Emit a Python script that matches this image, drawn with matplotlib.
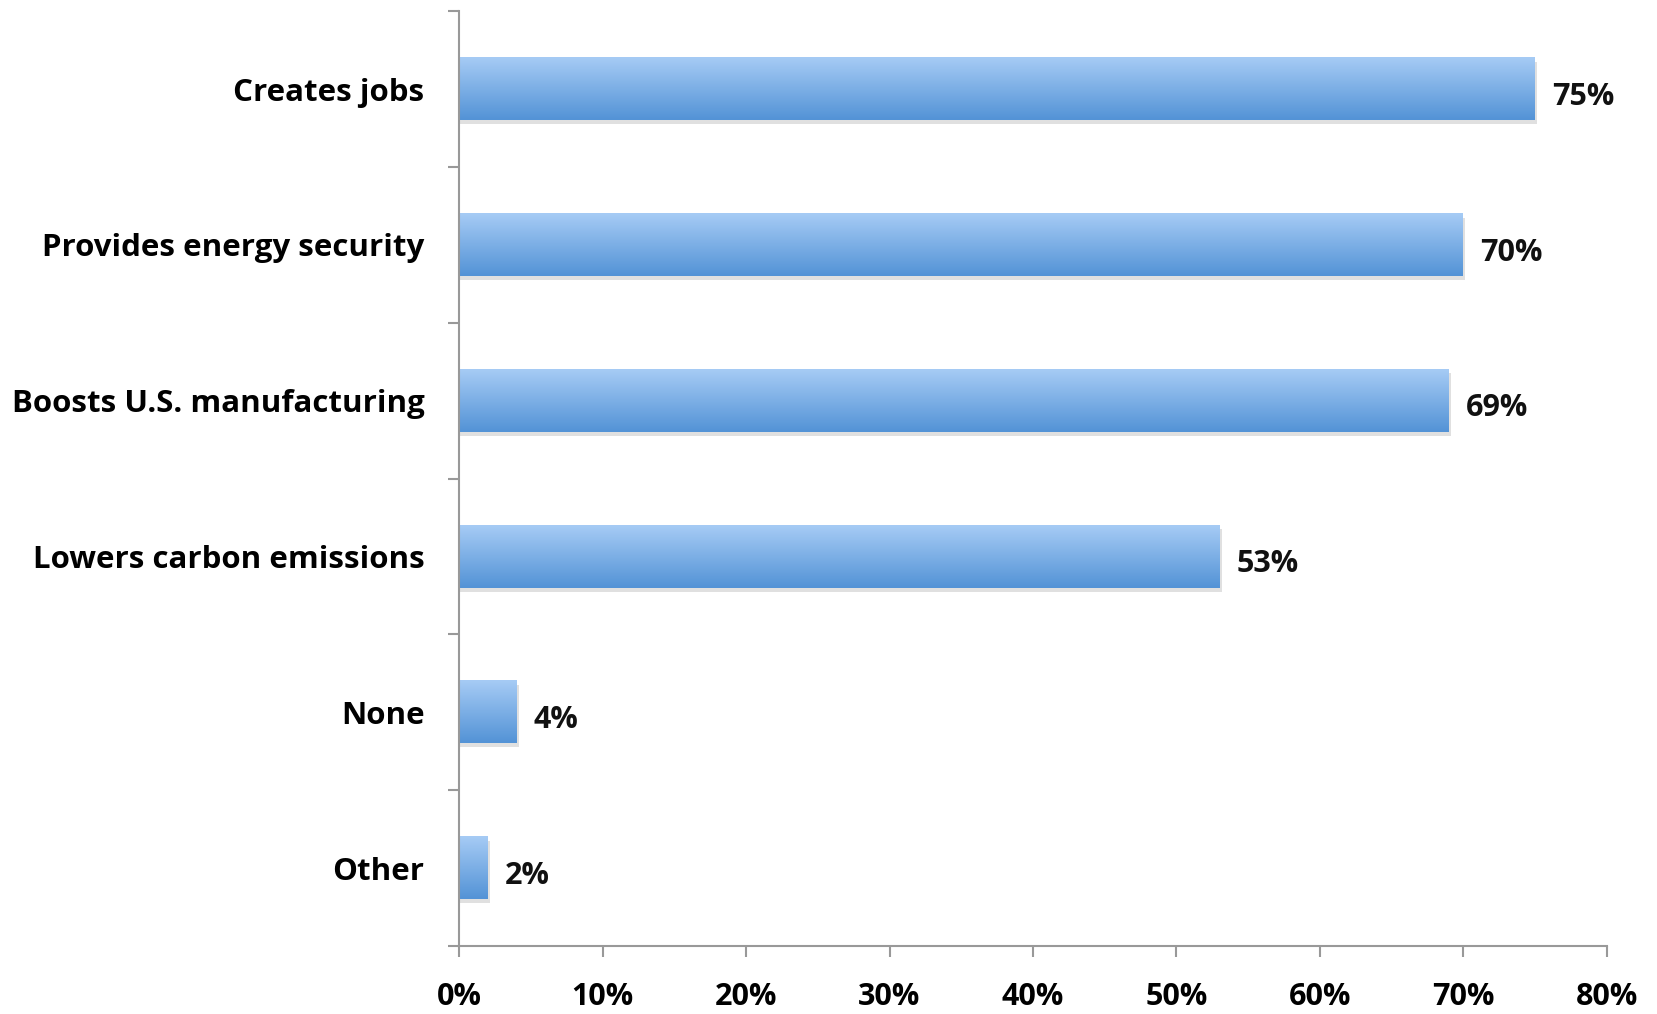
import numpy as np
import matplotlib.pyplot as plt
from matplotlib.colors import LinearSegmentedColormap

categories = ["Creates jobs", "Provides energy security", "Boosts U.S. manufacturing",
              "Lowers carbon emissions", "None", "Other"]
values = [75, 70, 69, 53, 4, 2]
xticks = [0, 10, 20, 30, 40, 50, 60, 70, 80]

plt.rcParams['font.family'] = ['Open Sans', 'DejaVu Sans']

fig = plt.figure(figsize=(16.58, 10.14), dpi=100)
ax = fig.add_axes([0.277, 0.067, 0.692, 0.922])

cmap = LinearSegmentedColormap.from_list("bar", ["#5393d6", "#a6cbf5"])
grad = np.linspace(0, 1, 100).reshape(-1, 1)

n = len(categories)
ypos = np.arange(n)[::-1]
h = 0.4

for y, v in zip(ypos, values):
    # soft shadow under the bar
    ax.barh(y - 0.025, v + 0.15, height=h, color="#000000", alpha=0.12, zorder=1)
    ax.imshow(grad, extent=[0, v, y - h / 2, y + h / 2], origin="lower",
              cmap=cmap, aspect="auto", zorder=2)
    ax.text(v + 1.2, y - 0.05, f"{v}%", va="center", ha="left",
            fontsize=22, fontweight="bold", color="#111111")

ax.set_xlim(0, 80)
ax.set_ylim(-0.5, n - 0.5)

ax.set_xticks(xticks)
ax.set_xticklabels([f"{t}%" for t in xticks], fontsize=22, fontweight="bold")
ax.tick_params(axis="x", length=8, width=1.5, color="#999999", pad=18)

ax.set_yticks(ypos)
ax.set_yticklabels(categories, fontsize=22.5, fontweight="bold")
ax.set_yticks(np.arange(n + 1) - 0.5, minor=True)
ax.tick_params(axis="y", which="major", length=0, pad=25)
ax.tick_params(axis="y", which="minor", length=8, width=1.5, color="#999999")

for s in ["top", "right"]:
    ax.spines[s].set_visible(False)
for s in ["left", "bottom"]:
    ax.spines[s].set_color("#999999")
    ax.spines[s].set_linewidth(1.5)

fig.savefig("out.png", dpi=100)
